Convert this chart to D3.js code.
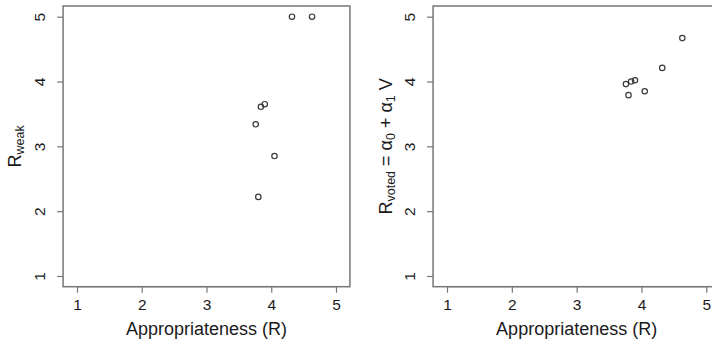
<!DOCTYPE html>
<html>
<head>
<meta charset="utf-8">
<script src="https://cdn.jsdelivr.net/npm/d3@7"></script>
<style>
  body { margin: 0; background: #fff; }
  svg { display: block; font-family: "Liberation Sans", Arial, sans-serif; }
</style>
</head>
<body>
<div id="chart"></div>
<script>
// appropriateness (x) shared by both panels
var appropriateness = [3.76, 3.80, 3.84, 3.90, 4.05, 4.32, 4.63];
var rWeak = [3.34, 2.22, 3.61, 3.65, 2.85, 5.00, 5.00];
var rVoted = [3.96, 3.79, 4.00, 4.02, 3.85, 4.21, 4.67];
var tickValues = [1, 2, 3, 4, 5];
var xTitle = "Appropriateness (R)";

var width = 712, height = 345;
var svg = d3.select("#chart").append("svg").attr("width", width).attr("height", height);

// y is the same for both panels
var y = d3.scaleLinear().domain([1, 5]).range([276, 16.7]);
var yPad = 0.165;

function panel(x0, x1, ys, labelX, label) {
    var x = d3.scaleLinear().domain([1, 5]).range([x0, x1]);
    var pad = 0.215;
    var g = svg.append("g");

    // points
    g.selectAll("circle").data(appropriateness).enter().append("circle")
        .attr("cx", function (d) { return x(d); })
        .attr("cy", function (d, i) { return y(ys[i]); })
        .attr("r", 2.7)
        .attr("fill", "none")
        .attr("stroke", "#3a3a3a")
        .attr("stroke-width", 1.2);

    // box
    g.append("rect")
        .attr("x", x(1 - pad)).attr("y", y(5 + yPad))
        .attr("width", x(5 + pad) - x(1 - pad))
        .attr("height", y(1 - yPad) - y(5 + yPad))
        .attr("fill", "none").attr("stroke", "#777").attr("stroke-width", 1.5);

    // x axis
    var xAxis = d3.axisBottom(x).tickValues(tickValues).tickSize(6).tickPadding(6).tickFormat(d3.format("d"));
    var gx = g.append("g").attr("transform", "translate(0," + y(1 - yPad) + ")").call(xAxis);
    gx.select(".domain").attr("stroke", "#777").attr("stroke-width", 1.2).attr("d", "M" + x(1) + ",0H" + x(5));
    gx.selectAll(".tick line").attr("stroke", "#777").attr("stroke-width", 1.2);
    gx.selectAll(".tick text").attr("fill", "#1a1a1a").style("font-size", "15.5px")
        .style("font-family", "Liberation Sans, Arial, sans-serif");

    // y axis
    var yAxis = d3.axisLeft(y).tickValues(tickValues).tickSize(6).tickPadding(0).tickFormat(d3.format("d"));
    var gy = g.append("g").attr("transform", "translate(" + x(1 - pad) + ",0)").call(yAxis);
    gy.select(".domain").remove();
    gy.selectAll(".tick line").attr("stroke", "#777").attr("stroke-width", 1.2);
    gy.selectAll(".tick text")
        .attr("x", null).attr("dy", null)
        .attr("transform", "translate(-18,0) rotate(-90)")
        .attr("text-anchor", "middle")
        .attr("fill", "#1a1a1a").style("font-size", "15.5px")
        .style("font-family", "Liberation Sans, Arial, sans-serif");

    // x title
    var cx = (x(1 - pad) + x(5 + pad)) / 2;
    g.append("text").attr("x", cx).attr("y", 335)
        .attr("text-anchor", "middle").attr("fill", "#1a1a1a")
        .style("font-size", "18px").text(xTitle);

    // y title
    var cy = (y(1 - yPad) + y(5 + yPad)) / 2;
    var t = g.append("text")
        .attr("transform", "translate(" + labelX + "," + cy + ") rotate(-90)")
        .attr("text-anchor", "middle").attr("fill", "#1a1a1a")
        .style("font-size", "18px");
    label.forEach(function (p) {
        var s = t.append("tspan").text(p.t);
        if (p.sub) s.attr("baseline-shift", "-25%").style("font-size", "12.5px");
    });
}

panel(77, 336, rWeak, 21, [{ t: "R" }, { t: "weak", sub: true }]);
panel(447, 706.3, rVoted, 392, [
    { t: "R" }, { t: "voted", sub: true }, { t: " = α" }, { t: "0", sub: true },
    { t: " + α" }, { t: "1", sub: true }, { t: " V" }
]);
</script>
</body>
</html>
